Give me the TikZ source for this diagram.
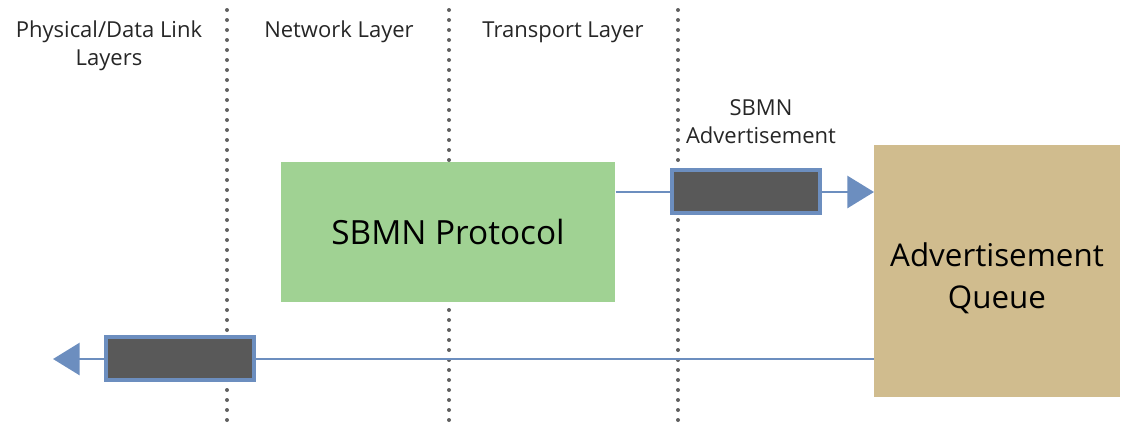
\documentclass[tikz,border=0pt]{standalone}
\usepackage{fontspec}
\setmainfont{Open Sans}
\usetikzlibrary{arrows.meta}
\definecolor{linkblue}{HTML}{6C8EBF}
\definecolor{protogreen}{HTML}{A0D293}
\definecolor{queuetan}{HTML}{D0BC8E}
\definecolor{packetgray}{HTML}{595959}
\definecolor{dotgray}{HTML}{606060}
\tikzset{
  layerdiv/.style={dotgray, line width=3pt, line cap=round, dash pattern=on 0pt off 7.5pt},
  layerlabel/.style={font=\fontsize{16.5}{21}\selectfont, align=center, text=black!85},
  packet/.style={draw=linkblue, fill=packetgray, line width=3pt, minimum width=111pt, minimum height=32pt, inner sep=0pt},
  flow/.style={linkblue, line width=2.2pt, -{Triangle[length=20pt, width=24pt]}},
}
\begin{document}
\begin{tikzpicture}[x=0.75pt, y=-0.75pt]
\useasboundingbox (0,0) rectangle (1121,426);
% layer dividers
\foreach \xx/\nm in {227/d1, 449/d2, 678/d3}{
  \coordinate (\nm top) at (\xx,10);
  \coordinate (\nm bot) at (\xx,426);
  \draw[layerdiv] (\nm top) -- (\nm bot);
}
% layer headings
\node[layerlabel] (phys) at (109,46) {Physical/Data Link\\Layers};
\node[layerlabel] (net) at (339,32) {Network Layer};
\node[layerlabel] (trans) at (563,32) {Transport Layer};
% main blocks
\node[fill=protogreen, minimum width=251pt, minimum height=105pt, inner sep=0pt,
      font=\fontsize{25}{30}\selectfont] (proto) at (448,232) {SBMN Protocol};
\node[fill=queuetan, minimum width=185pt, minimum height=189pt, inner sep=0pt] (queue) at (997,271) {};
\node[align=center, font=\fontsize{23.5}{31}\selectfont] (queuetext) at ([yshift=-5.5pt]queue.center) {Advertisement\\Queue};
% outgoing advertisement
\coordinate (qin) at (874,192);
\draw[flow] (proto.east |- qin) -- (qin);
\node[packet] (adv) at (746,191.5) {};
\node[layerlabel] (advlbl) at (761,122) {SBMN\\Advertisement};
% return path to lower layers
\coordinate (qout) at (874,359);
\coordinate (lowend) at (53,359);
\draw[flow] (qout) -- (lowend);
\node[packet] (pkt) at (180,358.5) {};
\end{tikzpicture}
\end{document}
